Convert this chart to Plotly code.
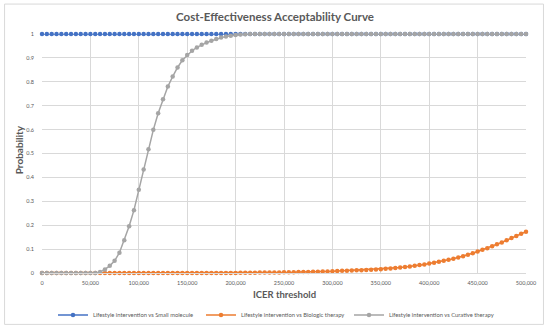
import plotly.graph_objects as go

# ICER thresholds (categories)
thresholds = list(range(0, 500001, 5000))

small_molecule = [
    1, 1, 1, 1, 1, 1, 1, 1, 1, 1, 1, 1, 1, 1, 1, 1, 1, 1, 1, 1,
    1, 1, 1, 1, 1, 1, 1, 1, 1, 1, 1, 1, 1, 1, 1, 1, 1, 1, 1, 1,
    1, 1, 1, 1, 1, 1, 1, 1, 1, 1, 1, 1, 1, 1, 1, 1, 1, 1, 1, 1,
    1, 1, 1, 1, 1, 1, 1, 1, 1, 1, 1, 1, 1, 1, 1, 1, 1, 1, 1, 1,
    1, 1, 1, 1, 1, 1, 1, 1, 1, 1, 1, 1, 1, 1, 1, 1, 1, 1, 1, 1,
    1,
]

biologic = [
    0, 0, 0, 0, 0, 0, 0, 0, 0, 0, 0, 0, 0, 0, 0, 0, 0, 0, 0, 0,
    0, 0, 0, 0, 0, 0, 0, 0, 0, 0, 0, 0, 0, 0, 0, 0, 0, 0, 0, 0,
    0,
    0.001, 0.001, 0.001, 0.001, 0.002, 0.002, 0.002, 0.002, 0.002, 0.003,
    0.003, 0.003, 0.004, 0.004, 0.004, 0.005, 0.005, 0.006, 0.006, 0.007,
    0.008, 0.009, 0.009, 0.010, 0.011, 0.012, 0.013, 0.014, 0.015, 0.016,
    0.018, 0.019, 0.021, 0.023, 0.025, 0.027, 0.030, 0.033, 0.036, 0.040,
    0.043, 0.047, 0.051, 0.055, 0.060, 0.065, 0.070, 0.076, 0.083, 0.090,
    0.097, 0.104, 0.112, 0.120, 0.128, 0.137, 0.146, 0.155, 0.164, 0.173,
]

curative = [
    0, 0, 0, 0, 0, 0, 0, 0, 0, 0, 0, 0,
    0.004, 0.015, 0.030, 0.051, 0.085, 0.137, 0.196, 0.263, 0.348, 0.433,
    0.518, 0.599, 0.668, 0.727, 0.780, 0.822, 0.860, 0.890, 0.912, 0.930,
    0.944, 0.955, 0.964, 0.972, 0.979, 0.985, 0.990, 0.993, 0.996, 0.998,
    0.999,
    1, 1, 1, 1, 1, 1, 1, 1, 1, 1, 1, 1, 1, 1, 1, 1, 1, 1, 1, 1,
    1, 1, 1, 1, 1, 1, 1, 1, 1, 1, 1, 1, 1, 1, 1, 1, 1, 1, 1, 1,
    1, 1, 1, 1, 1, 1, 1, 1, 1, 1, 1, 1, 1, 1, 1, 1, 1, 1,
]

series_names = [
    "Lifestyle intervention vs Small molecule",
    "Lifestyle intervention vs Biologic therapy",
    "Lifestyle intervention vs Curative therapy",
]
colors = ["#4472C4", "#ED7D31", "#A5A5A5"]

x_ticks = list(range(0, 500001, 50000))
y_ticks = [0, 0.1, 0.2, 0.3, 0.4, 0.5, 0.6, 0.7, 0.8, 0.9, 1]

FONT = "Lato, 'Open Sans', sans-serif"
GREY_TXT = "#595959"

fig = go.Figure()
for name, ys, c in zip(series_names, [small_molecule, biologic, curative], colors):
    fig.add_trace(go.Scatter(
        x=thresholds, y=ys, name=name, mode="lines+markers",
        line=dict(color=c, width=1.5),
        marker=dict(color=c, size=4.5, symbol="circle"),
        cliponaxis=False,
    ))

W, H = 550, 329
L, R, T, B = 41.5, 23.5, 34, 55.5
pw = W - L - R
ph = H - T - B

fig.update_layout(
    width=W, height=H,
    margin=dict(l=L, r=R, t=T, b=B, pad=0, autoexpand=False),
    paper_bgcolor="white", plot_bgcolor="white",
    font=dict(family=FONT, color=GREY_TXT, size=6),
    title=dict(
        text="<b>Cost-Effectiveness Acceptability Curve</b>",
        x=0.5, xref="container", xanchor="center",
        y=1 - 17 / H, yref="container", yanchor="middle",
        font=dict(family=FONT, size=11.5, color=GREY_TXT),
    ),
    xaxis=dict(
        range=[0, 500000], tickvals=x_ticks, tickformat=",",
        showgrid=True, gridcolor="#D9D9D9", gridwidth=1,
        zeroline=False, showline=True, linecolor="#D9D9D9",
        ticks="", ticklabelstandoff=4, tickfont=dict(size=5.5, color=GREY_TXT),
        automargin=False,
    ),
    yaxis=dict(
        range=[0, 1], tickvals=y_ticks,
        showgrid=True, gridcolor="#D9D9D9", gridwidth=1,
        zeroline=False, showline=False, automargin=False,
        ticks="", ticklabelstandoff=7, tickfont=dict(size=5.5, color=GREY_TXT),
    ),
    legend=dict(
        orientation="h", x=0.5, xref="container", xanchor="center",
        y=1 - 315 / H, yref="container", yanchor="middle",
        font=dict(size=5.8, color=GREY_TXT), itemwidth=30,
        entrywidth=103, entrywidthmode="pixels",
        bgcolor="rgba(0,0,0,0)",
    ),
    showlegend=True,
)

# axis titles
fig.add_annotation(
    text="<b>ICER threshold</b>", xref="paper", yref="paper",
    x=(285 - L) / pw, y=(H - B - 295) / ph, xanchor="center", yanchor="middle",
    showarrow=False, font=dict(size=9.5, color=GREY_TXT, family=FONT),
)
fig.add_annotation(
    text="<b>Probability</b>", xref="paper", yref="paper",
    x=(18 - L) / pw, y=(H - B - 150) / ph, xanchor="center", yanchor="middle",
    textangle=-90, showarrow=False,
    font=dict(size=10, color=GREY_TXT, family=FONT),
)

# chart border
fig.add_shape(
    type="rect", xref="paper", yref="paper",
    x0=(4 - L) / pw, x1=(544 - L) / pw,
    y0=(H - B - 325) / ph, y1=(H - B - 4) / ph,
    line=dict(color="#D9D9D9", width=1), fillcolor="rgba(0,0,0,0)",
    layer="below",
)

fig.write_html(
    "out.html",
    config={"displayModeBar": False},
    post_script="document.body.style.margin='0';",
)
